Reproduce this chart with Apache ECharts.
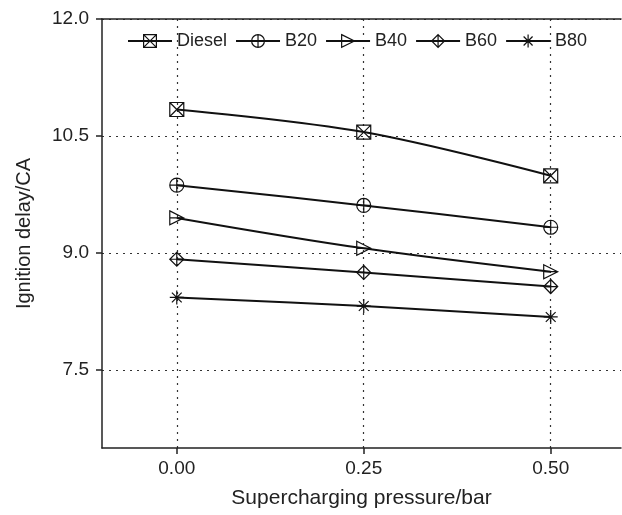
<!DOCTYPE html>
<html>
<head>
<meta charset="utf-8">
<script src="https://cdn.jsdelivr.net/npm/echarts@6/dist/echarts.min.js"></script>
<style>html,body{margin:0;padding:0;background:#fff}#c{width:622px;height:515px}</style>
</head>
<body>
<div id="c"></div>
<script>
const pressures = [0, 0.25, 0.5];
const xTicks = [0, 0.25, 0.5];
const yTicks = [7.5, 9.0, 10.5, 12.0];
const seriesNames = ['Diesel', 'B20', 'B40', 'B60', 'B80'];
const diesel = [10.84, 10.55, 9.99];
const b20 = [9.87, 9.61, 9.33];
const b40 = [9.45, 9.06, 8.76];
const b60 = [8.92, 8.75, 8.57];
const b80 = [8.43, 8.32, 8.18];
const values = [diesel, b20, b40, b60, b80];

const symbols = [
  'path://M0,0L10,0L10,10L0,10ZM0,0L10,10M10,0L0,10',
  'path://M10,5A5,5,0,1,1,0,5A5,5,0,1,1,10,5ZM0,5L10,5M5,0L5,10',
  'path://M0,0L10,5L0,10ZM0,0L0,10M0,5L10,5',
  'path://M5,0L10,5L5,10L0,5ZM0,5L10,5M5,0L5,10',
  'path://M5,0L5,10M0,5L10,5M1.5,1.5L8.5,8.5M8.5,1.5L1.5,8.5'
];

const chart = echarts.init(document.getElementById('c'), null, {renderer: 'canvas'});
const font = 'Liberation Sans, Arial, sans-serif';
const axisColor = '#222';

chart.setOption({
  animation: false,
  textStyle: {fontFamily: font},
  grid: {left: 102, top: 19, right: 1, height: 429, show: false},
  legend: {
    left: 122, top: 27,
    itemWidth: 44, itemHeight: 16, itemGap: 8,
    textStyle: {fontSize: 18, color: '#222', fontFamily: font},
    itemStyle: {color: 'rgba(255,255,255,0)', borderColor: '#111', borderWidth: 1.2},
    lineStyle: {color: '#111', width: 2},
    data: seriesNames
  },
  xAxis: [{
    type: 'value', min: -0.1, max: 0.594,
    name: 'Supercharging pressure/bar', nameLocation: 'middle', nameGap: 40,
    nameTextStyle: {fontSize: 21, color: '#222', fontFamily: font},
    axisLine: {show: true, onZero: false, lineStyle: {color: axisColor, width: 1.5}},
    axisTick: {show: true, customValues: xTicks, length: 6, lineStyle: {color: axisColor, width: 1.5}},
    axisLabel: {customValues: xTicks, fontSize: 19, color: '#222', margin: 11, formatter: v => v.toFixed(2)},
    splitLine: {show: true, lineStyle: {color: '#333', type: [2, 5], width: 1.2}}
  }, {
    type: 'value', position: 'top', min: -0.1, max: 0.594,
    axisLine: {show: true, onZero: false, lineStyle: {color: axisColor, width: 1.5}},
    axisTick: {show: false}, axisLabel: {show: false}, splitLine: {show: false}
  }],
  yAxis: {
    type: 'value', min: 6.5, max: 12.0,
    name: 'Ignition delay/CA', nameLocation: 'middle', nameGap: 68, nameRotate: 90,
    nameTextStyle: {fontSize: 20, color: '#222', fontFamily: font},
    axisLine: {show: true, onZero: false, lineStyle: {color: axisColor, width: 1.5}},
    axisTick: {show: true, customValues: yTicks, length: 6, lineStyle: {color: axisColor, width: 1.5}},
    axisLabel: {customValues: yTicks, fontSize: 19, color: '#222', margin: 13, formatter: v => v.toFixed(1)},
    splitLine: {show: true, lineStyle: {color: '#333', type: [2, 5], width: 1.2}}
  },
  series: seriesNames.map((n, i) => ({
    name: n, type: 'line', smooth: 0.35,
    data: pressures.map((p, j) => [p, values[i][j]]),
    symbol: symbols[i], symbolSize: 14, symbolKeepAspect: true, showSymbol: true,
    lineStyle: {color: '#111', width: 2},
    itemStyle: {color: 'rgba(255,255,255,0)', borderColor: '#111', borderWidth: 1.2},
    z: 3
  }))
});
</script>
</body>
</html>
